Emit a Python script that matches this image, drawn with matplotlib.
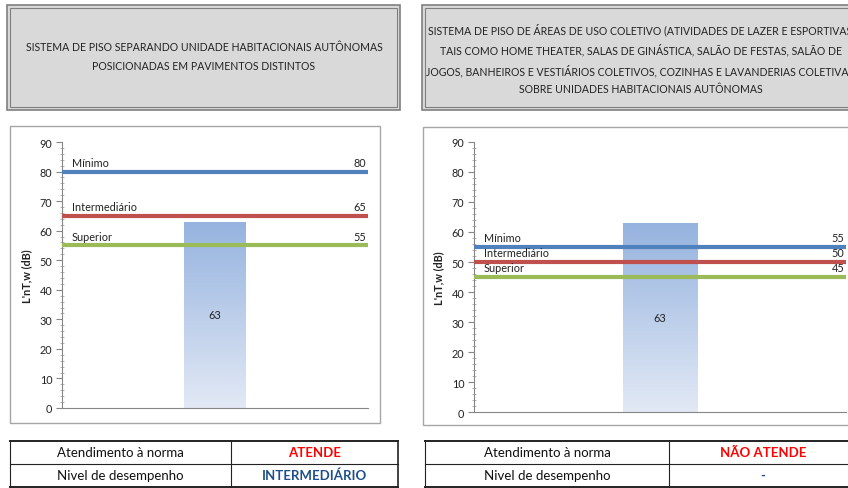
import numpy as np
import matplotlib.pyplot as plt
from matplotlib.patches import Rectangle
from matplotlib.lines import Line2D
from matplotlib.colors import LinearSegmentedColormap

plt.rcParams['font.family'] = ['Lato', 'DejaVu Sans']

W, H = 848, 489

# data
titles = [
    "SISTEMA DE PISO SEPARANDO UNIDADE HABITACIONAIS AUTÔNOMAS\nPOSICIONADAS EM PAVIMENTOS DISTINTOS",
    "SISTEMA DE PISO DE ÁREAS DE USO COLETIVO (ATIVIDADES DE LAZER E ESPORTIVAS,\n"
    "TAIS COMO HOME THEATER, SALAS DE GINÁSTICA, SALÃO DE FESTAS, SALÃO DE\n"
    "JOGOS, BANHEIROS E VESTIÁRIOS COLETIVOS, COZINHAS E LAVANDERIAS COLETIVAS)\n"
    "SOBRE UNIDADES HABITACIONAIS AUTÔNOMAS",
]
measured = [63, 63]
levels = ["Mínimo", "Intermediário", "Superior"]
limits = [[80, 65, 55], [55, 50, 45]]
level_colors = ["#4F81BD", "#C0504D", "#9BBB59"]
row_labels = ["Atendimento à norma", "Nivel de desempenho"]
status = ["ATENDE", "NÃO ATENDE"]
performance = ["INTERMEDIÁRIO", "-"]
yticks = [0, 10, 20, 30, 40, 50, 60, 70, 80, 90]

fig = plt.figure(figsize=(W / 100, H / 100), dpi=100)
fig.patch.set_facecolor("white")


def fx(x):
    return x / W


def fy(y):
    return 1 - y / H


def rect(x0, y0, x1, y1, **kw):
    fig.add_artist(Rectangle((fx(x0), fy(y1)), (x1 - x0) / W, (y1 - y0) / H,
                             transform=fig.transFigure, zorder=-2, **kw))


def hline(x0, x1, y, **kw):
    fig.add_artist(Line2D([fx(x0), fx(x1)], [fy(y), fy(y)], transform=fig.transFigure, **kw))


def vline(x, y0, y1, **kw):
    fig.add_artist(Line2D([fx(x), fx(x)], [fy(y0), fy(y1)], transform=fig.transFigure, **kw))


# panel geometry in pixels
panels = [
    dict(title=(7, 6, 400, 111), chart=(10, 127, 380, 424), ax=(62, 143, 368, 409),
         table=(10, 442, 398, 488), split=231, tx=204, ty=57, ls=1.9),
    dict(title=(422, 6, 870, 111), chart=(423, 128, 870, 426), ax=(474, 143, 846, 413),
         table=(425, 442, 857, 488), split=669, tx=641, ty=59, ls=1.75),
]

cmap = LinearSegmentedColormap.from_list("bar", ["#E2E9F5", "#95B3DF"])

for i, p in enumerate(panels):
    # title box with double border
    x0, y0, x1, y1 = p["title"]
    rect(x0, y0, x1, y1, facecolor="#D9D9D9", edgecolor="#7F7F7F", lw=1.2)
    rect(x0 + 3, y0 + 3, x1 - 3, y1 - 3, facecolor="none", edgecolor="#7F7F7F", lw=0.8)
    fig.text(fx(p["tx"]), fy(p["ty"]), titles[i],
             ha="center", va="center", fontsize=7.6, linespacing=p["ls"], color="#222222")

    # chart box
    x0, y0, x1, y1 = p["chart"]
    rect(x0, y0, x1, y1, facecolor="white", edgecolor="#A6A6A6", lw=1.0)

    # plot
    a0, b0, a1, b1 = p["ax"]
    ax = fig.add_axes([fx(a0), fy(b1), (a1 - a0) / W, (b1 - b0) / H])
    ax.patch.set_alpha(0)

    bars = ax.bar([0], [measured[i]], width=0.2, color="none", edgecolor="none", zorder=2)
    b = bars[0]
    grad = np.linspace(0, 1, 256).reshape(-1, 1)
    im = ax.imshow(grad, cmap=cmap, origin="lower", aspect="auto",
                   extent=[b.get_x(), b.get_x() + b.get_width(), 0, b.get_height()], zorder=2)
    im.set_clip_path(b)
    ax.set_xlim(-0.5, 0.5)
    ax.set_ylim(0, 90)
    ax.text(0, measured[i] / 2, str(measured[i]), ha="center", va="center", fontsize=7.8,
            color="#222222", zorder=4)

    for name, val, col in zip(levels, limits[i], level_colors):
        ax.axhline(val, color=col, lw=3, zorder=3)
        ax.annotate(name, xy=(0, val), xycoords=("axes fraction", "data"),
                    xytext=(7, 6.5), textcoords="offset points", ha="left", va="center",
                    fontsize=7.8, color="#222222", zorder=4)
        ax.annotate(str(val), xy=(1, val), xycoords=("axes fraction", "data"),
                    xytext=(-1, 6.5), textcoords="offset points", ha="right", va="center",
                    fontsize=7.8, color="#222222", zorder=4)

    ax.set_yticks(yticks)
    ax.set_yticks(np.arange(0, 91, 2), minor=True)
    ax.set_xticks([])
    for s in ["top", "right"]:
        ax.spines[s].set_visible(False)
    ax.spines["left"].set_color("#868686")
    ax.spines["bottom"].set_color("#868686")
    ax.tick_params(axis="y", which="major", length=4, color="#868686", labelsize=7.8,
                   labelcolor="#222222", pad=3)
    ax.tick_params(axis="y", which="minor", length=2.5, direction="inout", color="#A6A6A6")
    ax.set_ylabel("L'nT,w (dB)", fontsize=7.8, fontweight="bold", labelpad=5, color="#222222")

    # table below
    x0, y0, x1, y1 = p["table"]
    ym = (y0 + y1) / 2 - 0.5
    xs = p["split"]
    hline(x0, x1, y0, color="#222222", lw=1.4)
    hline(x0, x1, ym, color="#222222", lw=0.8)
    hline(x0, x1, y1, color="#222222", lw=1.4)
    vline(x0, y0, y1, color="#222222", lw=0.8)
    vline(xs, y0, y1, color="#222222", lw=0.8)
    vline(x1, y0, y1, color="#222222", lw=1.2)
    r1 = (y0 + ym) / 2
    r2 = (ym + y1) / 2
    fig.text(fx((x0 + xs) / 2), fy(r1), row_labels[0], ha="center", va="center",
             fontsize=9.5, color="#111111")
    fig.text(fx((x0 + xs) / 2), fy(r2), row_labels[1], ha="center", va="center",
             fontsize=9.5, color="#111111")
    fig.text(fx((xs + x1) / 2), fy(r1), status[i], ha="center", va="center",
             fontsize=9.5, color="#FF0000", fontweight="bold")
    fig.text(fx((xs + x1) / 2), fy(r2), performance[i], ha="center", va="center",
             fontsize=9.5, color="#1F4E8C", fontweight="bold")

fig.savefig("out.png", dpi=100)
